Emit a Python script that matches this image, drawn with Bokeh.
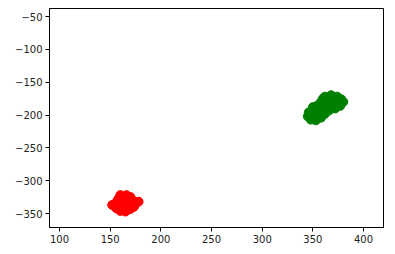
from bokeh.plotting import figure
from bokeh.embed import file_html
from bokeh.resources import INLINE
from bokeh.models import FixedTicker, CustomJSTickFormatter, Range1d

red_x = [155, 158, 160, 163, 166, 170, 172, 175, 178, 174, 170, 165, 160, 156, 152, 162, 167, 165, 170, 158, 163, 168, 173, 157]
red_y = [-335, -328, -322, -325, -322, -325, -330, -333, -332, -338, -343, -347, -346, -342, -337, -335, -338, -330, -335, -340, -344, -344, -340, -331]

green_x = [362, 368, 374, 378, 380, 377, 372, 366, 360, 355, 350, 346, 345, 348, 353, 358, 362, 364, 370, 358, 352, 368, 375, 360, 372, 365, 356, 359, 354, 361, 350]
green_y = [-172, -170, -172, -176, -180, -186, -190, -193, -192, -190, -192, -196, -202, -207, -208, -204, -198, -185, -180, -180, -200, -186, -182, -175, -176, -178, -196, -188, -186, -194, -188]

x_ticks = [100, 150, 200, 250, 300, 350, 400]
y_ticks = [-350, -300, -250, -200, -150, -100, -50]

p = figure(width=395, height=254, output_backend="svg", toolbar_location=None,
           x_range=Range1d(90.1, 419.7), y_range=Range1d(-371.3, -37.8),
           min_border_left=49, min_border_right=12, min_border_top=8, min_border_bottom=27)

p.scatter(red_x, red_y, size=9, color="red", line_color="red")
p.scatter(green_x, green_y, size=9, color="green", line_color="green")

p.xgrid.visible = False
p.ygrid.visible = False
p.outline_line_color = "black"
p.outline_line_width = 1
p.background_fill_color = "white"
p.border_fill_color = "white"

fmt = CustomJSTickFormatter(code="return String(tick).replace('-', '\u2212');")
for ax, ticks in ((p.xaxis, x_ticks), (p.yaxis, y_ticks)):
    ax.ticker = FixedTicker(ticks=ticks)
    ax.formatter = fmt
    ax.major_tick_in = 0
    ax.major_tick_out = 4
    ax.minor_tick_line_color = None
    ax.axis_line_color = "black"
    ax.major_tick_line_color = "black"
    ax.major_label_text_font = "DejaVu Sans"
    ax.major_label_text_font_size = "10px"
    ax.major_label_text_color = "#222222"
    ax.major_label_standoff = 3

open("out.html", "w").write(file_html(p, INLINE))
